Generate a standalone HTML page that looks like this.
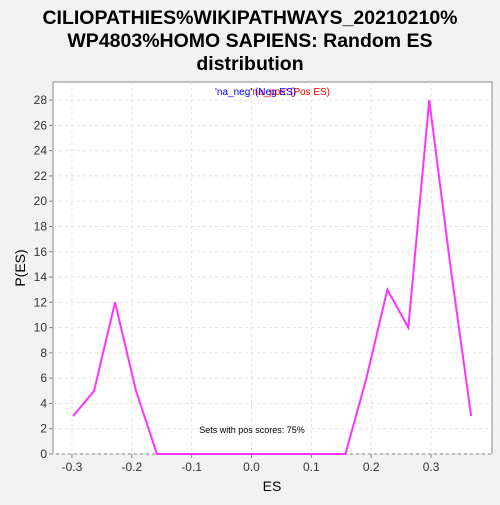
<!DOCTYPE html>
<html><head><style>
body{margin:0;background:#f2f2f2;font-family:"Liberation Sans",sans-serif;}
</style></head><body>
<svg width="500" height="500" xmlns="http://www.w3.org/2000/svg">
<rect x="0" y="0" width="500" height="500" fill="#f2f2f2"/>
<text x="250" y="24" font-size="19.5" font-weight="bold" text-anchor="middle">CILIOPATHIES%WIKIPATHWAYS_20210210%</text>
<text x="250" y="47" font-size="19.5" font-weight="bold" text-anchor="middle">WP4803%HOMO SAPIENS: Random ES</text>
<text x="250" y="70" font-size="19.5" font-weight="bold" text-anchor="middle">distribution</text>
<rect x="53" y="82" width="439" height="372" fill="#fff" stroke="#888"/>
<g id="grid"></g>
<g id="axes"></g>
<text x="330" y="95" font-size="10" fill="red" text-anchor="end">'na_pos' (Pos ES)</text>
<text x="215" y="95" font-size="10" fill="blue">'na_neg' (Neg ES)</text>
<text x="252" y="433" font-size="9" text-anchor="middle">Sets with pos scores: 75%</text>
<text x="272" y="491" font-size="14" text-anchor="middle">ES</text>
<text x="25" y="268" font-size="14" text-anchor="middle" transform="rotate(-90 25 268)">P(ES)</text>
<polyline id="line" fill="none" stroke="#ff33ff" stroke-width="2"/>
</svg>
<script>
const xs=[-0.298,-0.263,-0.228,-0.193,-0.158,-0.123,-0.088,-0.053,-0.018,0.017,0.052,0.087,0.122,0.157,0.192,0.227,0.262,0.297,0.332,0.367];
const ys=[3,5,12,5,0,0,0,0,0,0,0,0,0,0,6,13,10,28,15,3];
const xTicks=[-0.3,-0.2,-0.1,0.0,0.1,0.2,0.3];
const xTickLabels=["-0.3","-0.2","-0.1","0.0","0.1","0.2","0.3"];
const yTicks=[0,2,4,6,8,10,12,14,16,18,20,22,24,26,28];
const X=v=>251.5+v*598.5, Y=v=>454-v*12.64;
const ns="http://www.w3.org/2000/svg";
const g=document.getElementById('grid'), a=document.getElementById('axes');
function mk(tag,at,par){const e=document.createElementNS(ns,tag);for(const k in at)e.setAttribute(k,at[k]);par.appendChild(e);return e;}
yTicks.forEach(t=>{
 const l=mk('line',{x1:53,x2:492,y1:Y(t),y2:Y(t),stroke:'#e4e4e4','stroke-dasharray':'3,3'},g);
 
 
 mk('line',{x1:49,x2:53,y1:Y(t),y2:Y(t),stroke:'#888'},a);
 const tx=mk('text',{x:47,y:Y(t)+4,'font-size':12,'text-anchor':'end',fill:'#333'},a);
 tx.textContent=t;
 
 
});
xTicks.forEach((t,i)=>{
 const l=mk('line',{x1:X(t),x2:X(t),y1:82,y2:454,stroke:'#e4e4e4','stroke-dasharray':'3,3'},g);
 
 
 mk('line',{x1:X(t),x2:X(t),y1:454,y2:458,stroke:'#888'},a);
 const tx=mk('text',{x:X(t),y:471,'font-size':12,'text-anchor':'middle',fill:'#333'},a);
 tx.textContent=xTickLabels[i];
 
 
});
document.getElementById('line').setAttribute('points',xs.map((x,i)=>X(x)+','+Y(ys[i])).join(' '));
</script>
</body></html>
